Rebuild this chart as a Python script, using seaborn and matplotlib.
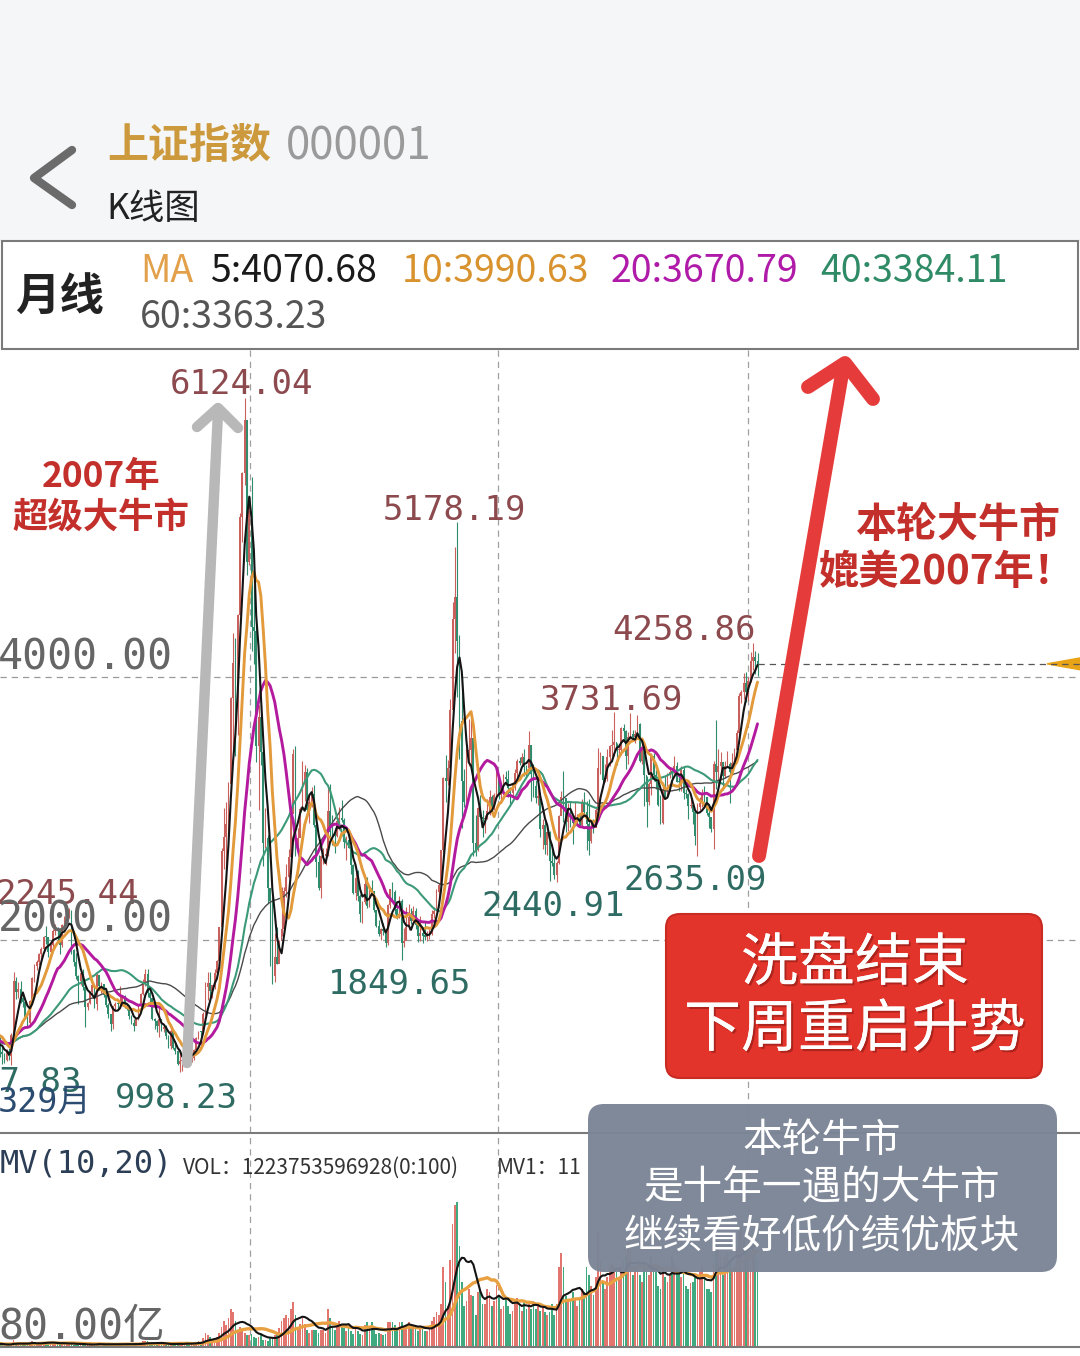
import numpy as np
import pandas as pd
import seaborn as sns
import matplotlib.pyplot as plt
import matplotlib.patheffects as pe
from matplotlib.lines import Line2D
from matplotlib.patches import FancyBboxPatch, Rectangle, Polygon
from matplotlib.transforms import Affine2D, blended_transform_factory

# monthly bars, Jan 1997 .. Apr 2026 (one row per year)
first_open = 917
close = [
    1025, 1049, 1203, 1390, 1293, 1242, 1181, 1210, 1097, 1133, 1152, 1194,
    1206, 1202, 1243, 1343, 1411, 1339, 1386, 1151, 1243, 1217, 1247, 1147,
    1135, 1090, 1158, 1120, 1280, 1689, 1601, 1627, 1556, 1532, 1412, 1367,
    1535, 1714, 1801, 1836, 1894, 1928, 2023, 2022, 1910, 1961, 2070, 2073,
    2065, 1959, 2112, 2119, 2214, 2218, 1920, 1834, 1729, 1690, 1747, 1646,
    1490, 1524, 1603, 1656, 1515, 1732, 1651, 1669, 1581, 1507, 1434, 1358,
    1499, 1511, 1510, 1521, 1576, 1487, 1477, 1421, 1367, 1348, 1397, 1497,
    1590, 1675, 1741, 1595, 1555, 1399, 1386, 1342, 1396, 1320, 1340, 1266,
    1191, 1306, 1181, 1159, 1060, 1080, 1083, 1162, 1155, 1092, 1099, 1161,
    1258, 1299, 1298, 1440, 1641, 1672, 1612, 1658, 1752, 1837, 2099, 2675,
    2786, 2881, 3183, 3841, 4109, 3820, 4471, 5218, 5552, 5955, 4871, 5262,
    4383, 4348, 3473, 3693, 3433, 2736, 2775, 2397, 2293, 1729, 1871, 1821,
    1991, 2082, 2373, 2477, 2633, 2959, 3412, 2667, 2779, 2996, 3195, 3277,
    2989, 3051, 3110, 2871, 2592, 2398, 2638, 2639, 2656, 2979, 2820, 2808,
    2790, 2905, 2928, 2911, 2743, 2762, 2701, 2567, 2359, 2468, 2333, 2199,
    2292, 2428, 2262, 2396, 2372, 2225, 2103, 2047, 2086, 2068, 1980, 2269,
    2385, 2365, 2236, 2177, 2300, 1979, 1993, 2098, 2175, 2141, 2220, 2116,
    2033, 2056, 2033, 2026, 2039, 2048, 2201, 2217, 2364, 2420, 2683, 3235,
    3210, 3310, 3748, 4442, 4612, 4277, 3664, 3206, 3053, 3383, 3445, 3539,
    2738, 2688, 3004, 2938, 2917, 2930, 2979, 3085, 3005, 3100, 3250, 3104,
    3159, 3242, 3223, 3155, 3117, 3192, 3273, 3361, 3349, 3393, 3317, 3307,
    3481, 3259, 3169, 3082, 3095, 2847, 2876, 2725, 2821, 2603, 2588, 2494,
    2585, 2941, 3091, 3078, 2899, 2979, 2933, 2886, 2905, 2929, 2871, 3050,
    2977, 2880, 2750, 2860, 2852, 2985, 3310, 3396, 3218, 3225, 3392, 3473,
    3483, 3509, 3442, 3447, 3615, 3591, 3397, 3544, 3568, 3547, 3564, 3640,
    3361, 3462, 3252, 3047, 3186, 3399, 3253, 3202, 3024, 2893, 3151, 3089,
    3256, 3280, 3273, 3323, 3205, 3202, 3291, 3120, 3110, 3018, 3030, 2975,
    2789, 3015, 3041, 3105, 3087, 2967, 2938, 2842, 3336, 3279, 3326, 3351,
    3250, 3321, 3336, 3279, 3347, 3444, 3573, 3858, 3883, 3955, 3888, 3969,
    4118, 4150, 4120, 4100,
]
high = [
    1030, 1060, 1230, 1430, 1510, 1330, 1250, 1230, 1215, 1150, 1170, 1200,
    1230, 1230, 1260, 1370, 1420, 1420, 1400, 1390, 1270, 1260, 1300, 1260,
    1190, 1140, 1170, 1180, 1290, 1756, 1720, 1680, 1690, 1580, 1540, 1430,
    1540, 1720, 1820, 1850, 1900, 1950, 2030, 2110, 2020, 1970, 2080, 2125,
    2100, 2080, 2120, 2180, 2240, 2245, 2230, 1930, 1900, 1735, 1770, 1780,
    1650, 1530, 1610, 1680, 1660, 1748, 1720, 1680, 1660, 1590, 1520, 1440,
    1500, 1525, 1530, 1649, 1580, 1580, 1520, 1490, 1430, 1400, 1410, 1500,
    1600, 1700, 1780, 1783, 1620, 1560, 1410, 1390, 1480, 1400, 1350, 1350,
    1280, 1320, 1320, 1230, 1160, 1150, 1100, 1170, 1225, 1160, 1110, 1170,
    1260, 1310, 1310, 1450, 1680, 1757, 1760, 1660, 1780, 1850, 2100, 2700,
    3000, 3050, 3200, 3850, 4335, 4300, 4480, 5250, 5560, 6124, 5800, 5300,
    5522, 4700, 4475, 3786, 3786, 3440, 3000, 2800, 2333, 2330, 2050, 2100,
    2000, 2400, 2400, 2580, 2690, 2960, 3454, 3478, 2850, 3010, 3361, 3330,
    3306, 3100, 3160, 3181, 2890, 2650, 2650, 2700, 2700, 3160, 3186, 2950,
    2850, 2930, 3010, 3067, 2930, 2790, 2826, 2720, 2580, 2536, 2536, 2350,
    2300, 2478, 2476, 2400, 2453, 2370, 2200, 2150, 2090, 2130, 2080, 2270,
    2390, 2444, 2380, 2270, 2334, 2310, 2092, 2250, 2270, 2240, 2260, 2240,
    2130, 2180, 2100, 2140, 2070, 2080, 2230, 2250, 2390, 2430, 2683, 3239,
    3406, 3370, 3835, 4573, 4986, 5178, 4317, 4006, 3300, 3460, 3680, 3684,
    3539, 2950, 3010, 3100, 2990, 2950, 3070, 3140, 3100, 3120, 3301, 3250,
    3170, 3260, 3283, 3295, 3160, 3200, 3300, 3375, 3390, 3420, 3450, 3330,
    3587, 3480, 3340, 3220, 3220, 3090, 2920, 2900, 2830, 2830, 2700, 2650,
    2600, 2950, 3130, 3288, 2930, 3040, 3050, 2910, 3050, 2960, 2960, 3070,
    3127, 3060, 3074, 2900, 2920, 3000, 3458, 3430, 3400, 3340, 3456, 3480,
    3600, 3731, 3500, 3480, 3620, 3640, 3600, 3580, 3723, 3600, 3600, 3708,
    3651, 3500, 3480, 3250, 3200, 3420, 3420, 3290, 3250, 3100, 3180, 3250,
    3270, 3300, 3290, 3400, 3350, 3260, 3320, 3320, 3150, 3120, 3090, 3040,
    2990, 3040, 3090, 3150, 3170, 3090, 2990, 2900, 3360, 3674, 3450, 3430,
    3350, 3360, 3440, 3350, 3420, 3460, 3600, 3880, 3900, 4030, 4040, 4000,
    4190, 4259, 4200, 4180,
]
low = [
    870, 990, 1050, 1190, 1226, 1150, 1130, 1140, 1025, 1050, 1100, 1110,
    1110, 1170, 1180, 1230, 1330, 1320, 1300, 1043, 1110, 1170, 1190, 1110,
    1060, 1064, 1080, 1090, 1047, 1270, 1550, 1560, 1520, 1490, 1400, 1341,
    1361, 1520, 1680, 1770, 1810, 1840, 1920, 1970, 1870, 1890, 1950, 2040,
    2000, 1890, 1950, 2060, 2100, 2170, 1890, 1800, 1700, 1514, 1660, 1620,
    1339, 1470, 1510, 1590, 1480, 1470, 1620, 1600, 1570, 1490, 1410, 1311,
    1320, 1460, 1470, 1500, 1500, 1480, 1470, 1400, 1358, 1307, 1360, 1390,
    1490, 1580, 1650, 1570, 1500, 1390, 1320, 1300, 1260, 1310, 1300, 1250,
    1180, 1170, 1170, 1130, 1050, 998, 1004, 1070, 1130, 1080, 1075, 1090,
    1163, 1250, 1260, 1300, 1430, 1540, 1540, 1560, 1630, 1730, 1820, 2080,
    2540, 2541, 2700, 3150, 3400, 3400, 3560, 4470, 5030, 5462, 4778, 4850,
    4196, 4100, 3357, 2990, 3330, 2566, 2700, 2285, 1802, 1664, 1679, 1814,
    1844, 2030, 2040, 2330, 2470, 2630, 2980, 2639, 2712, 2800, 3030, 3060,
    2980, 2890, 3010, 2860, 2481, 2382, 2319, 2580, 2570, 2640, 2770, 2720,
    2661, 2780, 2840, 2900, 2700, 2610, 2700, 2500, 2348, 2307, 2300, 2134,
    2132, 2270, 2242, 2250, 2340, 2210, 2100, 2030, 2000, 2040, 1949, 1960,
    2240, 2300, 2200, 2162, 2170, 1850, 1950, 2000, 2075, 2122, 2130, 2080,
    1984, 1990, 1974, 2000, 1991, 2010, 2040, 2170, 2220, 2280, 2400, 2660,
    3049, 3180, 3240, 3710, 4180, 3847, 3373, 2850, 3012, 3050, 3320, 3330,
    2638, 2638, 2680, 2930, 2780, 2810, 2920, 2950, 2960, 2990, 3070, 3070,
    3040, 3150, 3180, 3090, 3017, 3090, 3140, 3230, 3330, 3330, 3250, 3250,
    3300, 3060, 3090, 3040, 3030, 2782, 2690, 2653, 2644, 2449, 2560, 2460,
    2441, 2580, 2960, 2900, 2820, 2830, 2860, 2730, 2870, 2890, 2860, 2860,
    2960, 2685, 2646, 2740, 2815, 2870, 3010, 3260, 3200, 3200, 3210, 3320,
    3400, 3400, 3330, 3390, 3410, 3510, 3300, 3340, 3530, 3510, 3500, 3540,
    3350, 3340, 3020, 2863, 3030, 3100, 3210, 3150, 3020, 2885, 2880, 3080,
    3090, 3230, 3170, 3240, 3200, 3130, 3130, 3070, 3080, 2920, 3000, 2880,
    2724, 2635, 2990, 3010, 3050, 2950, 2850, 2820, 2689, 3150, 3170, 3220,
    3140, 3230, 3320, 3040, 3270, 3340, 3430, 3560, 3800, 3830, 3810, 3820,
    3960, 4050, 4020, 4010,
]
# volume, relative units (2015 peak = 100)
volume = [
    3, 3, 4, 5, 6, 3, 2, 2, 2, 2, 2, 2,
    2, 2, 2, 3, 3, 2, 2, 2, 2, 2, 2, 1.5,
    1.5, 1.2, 1.5, 1.5, 3, 5, 3, 3, 2, 1.5, 1.5, 1.5,
    2.5, 4, 3.5, 3, 3, 3, 3.5, 3.5, 2, 2, 3, 2.5,
    2, 2, 3, 3, 2.5, 2.5, 2, 1.5, 1.5, 2, 2, 1.5,
    1.5, 1.2, 2, 2.5, 1.5, 3, 2.5, 1.5, 1.5, 1.5, 1.5, 1.5,
    2, 2, 2, 3, 2.5, 2, 1.5, 1.5, 1.5, 1.5, 2, 2.5,
    3, 4, 4, 4, 2, 2, 2, 2, 3, 2, 2, 2,
    2, 2, 2, 2, 2, 3, 2, 3, 3, 2, 2, 3,
    3, 4, 3, 6, 10, 8, 7, 5, 6, 7, 10, 14,
    18, 15, 20, 26, 24, 18, 12, 14, 12, 10, 8, 8,
    9, 7, 6, 7, 8, 5, 5, 4, 6, 6, 8, 9,
    13, 18, 20, 22, 20, 26, 31, 22, 14, 16, 20, 16,
    12, 10, 12, 12, 12, 10, 12, 12, 10, 26, 20, 14,
    12, 15, 18, 16, 13, 11, 13, 11, 9, 13, 11, 9,
    8, 15, 17, 13, 17, 13, 9, 10, 9, 8, 9, 17,
    17, 17, 15, 12, 17, 17, 13, 15, 17, 13, 13, 13,
    11, 13, 13, 11, 11, 13, 18, 21, 24, 22, 30, 55,
    45, 28, 60, 85, 98, 100, 70, 45, 28, 32, 40, 36,
    35, 22, 38, 40, 30, 30, 40, 38, 28, 32, 43, 36,
    26, 28, 34, 28, 23, 25, 30, 34, 30, 25, 32, 26,
    30, 26, 32, 26, 28, 25, 27, 24, 22, 24, 30, 22,
    30, 55, 65, 55, 35, 32, 32, 38, 34, 28, 34, 40,
    38, 55, 50, 42, 36, 48, 80, 60, 45, 40, 48, 55,
    58, 55, 52, 48, 55, 60, 62, 72, 68, 50, 56, 60,
    50, 45, 58, 52, 50, 62, 55, 52, 42, 40, 55, 48,
    45, 50, 62, 58, 55, 52, 48, 52, 42, 40, 44, 45,
    50, 48, 52, 55, 48, 40, 40, 38, 58, 85, 70, 62,
    50, 62, 65, 60, 52, 55, 68, 80, 82, 75, 70, 68,
    72, 70, 65, 60,
]

ma_values = ["5:4070.68", "10:3990.63", "20:3670.79", "40:3384.11", "60:3363.23"]
peak_labels = ["6124.04", "5178.19", "4258.86", "3731.69", "2245.44"]
trough_labels = ["998.23", "1849.65", "2440.91", "2635.09", "1047.83"]

W, H = 1080, 1356
UP, DOWN = "#c9605c", "#2f8c6c"
VUP, VDOWN = "#e2756d", "#3faa80"
CJK = "Noto Sans CJK SC"
MONO = ["DejaVu Sans Mono", CJK]

sns.set_theme(style="white")
plt.rcParams["font.family"] = [CJK, "DejaVu Sans"]

df = pd.DataFrame({"close": close, "high": high, "low": low, "vol": volume})
df["open"] = [first_open] + close[:-1]
df["pos"] = np.arange(len(df))
for n in (5, 10, 20, 40, 60):
    df[f"ma{n}"] = df["close"].rolling(n, min_periods=1).mean()
df["mv10"] = df["vol"].rolling(10, min_periods=1).mean()
df["mv20"] = df["vol"].rolling(20, min_periods=1).mean()
up = df["close"] >= df["open"]

fig = plt.figure(figsize=(W / 100, H / 100), dpi=100)
fig.patch.set_facecolor("white")
# pixel coords, y measured from top
PX = Affine2D().scale(1 / W, -1 / H).translate(0, 1) + fig.transFigure


def txt(x, y, s, **kw):
    kw.setdefault("va", "center")
    kw.setdefault("ha", "left")
    return fig.text(x, y, s, transform=PX, **kw)


def pline(xs, ys, **kw):
    fig.add_artist(Line2D(xs, ys, transform=PX, **kw))


XLIM = (23.1, 490.6)

# ---- price panel
ax = fig.add_axes([0, 1 - 1133 / H, 1, (1133 - 350) / H])
ax.patch.set_visible(False)
ax.vlines(df["pos"], df["low"], df["high"], colors=np.where(up, UP, DOWN), lw=0.8)
body = (df["close"] - df["open"]).abs().clip(lower=10)
ax.bar(df["pos"], body, bottom=np.minimum(df["open"], df["close"]), width=0.75,
       color=np.where(up, UP, DOWN), linewidth=0)
for n, c, lw in [(60, "#4a4a4a", 1.0), (40, "#3c9a78", 1.5), (20, "#b41a9e", 2.1),
                 (10, "#e39a3b", 2.1), (5, "#141414", 1.5)]:
    sns.lineplot(data=df, x="pos", y=f"ma{n}", color=c, lw=lw, ax=ax)
for lvl in (4000, 2000):
    ax.axhline(lvl, color="#9a9a9a", lw=0.9, ls=(0, (5, 4)), zorder=0)
ax.hlines(close[-1], df["pos"].iloc[-1], XLIM[1], color="#555555", lw=0.9, ls=(0, (5, 4)))
bt = blended_transform_factory(ax.transAxes, ax.transData)
ax.add_patch(Polygon([(1047 / W, close[-1]), (1, close[-1] + 45), (1, close[-1] - 45)],
                     closed=True, transform=bt, color="#e8a317", clip_on=False))
ax.set_xlim(*XLIM)
ax.set_ylim(532, 6487)
ax.axis("off")

# ---- volume panel
axv = fig.add_axes([0, 1 - 1347 / H, 1, (1347 - 1150) / H])
axv.patch.set_visible(False)
axv.bar(df["pos"], df["vol"], width=0.75, color=np.where(up, VUP, VDOWN), linewidth=0)
sns.lineplot(data=df, x="pos", y="mv20", color="#e8a040", lw=2.4, ax=axv)
sns.lineplot(data=df, x="pos", y="mv10", color="#141414", lw=1.5, ax=axv)
axv.set_xlim(*XLIM)
axv.set_ylim(0, 136)
axv.axis("off")

# ---- frame / grid decorations
fig.add_artist(Rectangle((0, 0), W, 241, transform=PX, color="#f5f6f8", zorder=-2))
fig.add_artist(Rectangle((2, 241), 1076, 108, transform=PX, fc="white", ec="#7a7a7a", lw=1.5, zorder=1))
for gx in (250, 498, 748):
    pline([gx, gx], [350, 1347], color="#a0a0a0", lw=0.9, ls=(0, (5, 4)), zorder=-1)
pline([0, W], [1133, 1133], color="#7a7a7a", lw=1.5, zorder=1)
pline([0, W], [1347, 1347], color="#7a7a7a", lw=1.5, zorder=1)

# ---- header
pline([72, 34, 72], [150, 178, 205], color="#6b6b6b", lw=6, solid_capstyle="round",
      solid_joinstyle="round")
txt(107, 146, "上证指数", size=29.5, weight="bold", color="#cc9a3c")
txt(286, 146, "000001", size=31.5, color="#9a9a9a")
txt(106, 209, "K线图", size=25.5, color="#222222")
txt(15, 298, "月线", size=32, weight="bold", color="#222222")
txt(140, 272, "MA", size=27, color="#e3a04a")
ma_x = [210, 402, 611, 820]
ma_c = ["#1a1a1a", "#d8922e", "#b01aa8", "#2f8a66"]
for x, s, c in zip(ma_x, ma_values[:4], ma_c):
    txt(x, 272, s, size=27, color=c)
txt(140, 318, ma_values[4], size=27, color="#555555")

# ---- price labels
HI, LO = "#8c4a4e", "#2e6b62"
for (x, y), s in zip([(170, 385), (383, 510), (612, 631), (540, 701), (-5, 894)], peak_labels):
    txt(x, y, s, size=24.5, family=MONO, color=HI)
for (x, y), s in zip([(115, 1098), (328, 985), (482, 907), (623, 880)], trough_labels[:4]):
    txt(x, y, s, size=24.5, family=MONO, color=LO)
txt(82, 1083, trough_labels[4], size=24.5, family=MONO, color=LO, ha="right")
txt(-2, 1102, "329月", size=24, family=MONO, color="#2b4b70")
txt(-2, 658, "4000.00", size=30, family=MONO, color="#666666")
txt(-2, 920, "2000.00", size=30, family=MONO, color="#666666")

# ---- volume labels
txt(0, 1164, "MV(10,20)", size=23, family=MONO, color="#2c3e55")
txt(183, 1168, "VOL：1223753596928(0:100)", size=15, color="#333333")
txt(497, 1168, "MV1：11", size=15, color="#333333")
txt(-2, 1327, "80.00亿", size=30, family=MONO, color="#666666")

# ---- arrows
pline([187, 218], [1063, 412], color="#b8b8b8", lw=7.5, solid_capstyle="round", zorder=4)
pline([197, 218, 238], [427, 408, 428], color="#b8b8b8", lw=7.5, solid_capstyle="round",
      solid_joinstyle="round", zorder=4)
pline([759, 843], [856, 368], color="#e63b3b", lw=10, solid_capstyle="round", zorder=4)
pline([808, 845, 873], [387, 363, 399], color="#e63b3b", lw=10, solid_capstyle="round",
      solid_joinstyle="round", zorder=4)

# ---- captions
red = "#c3302b"
txt(101, 476, "2007年", size=25.5, weight="bold", color=red, ha="center")
txt(101, 517, "超级大牛市", size=25.5, weight="bold", color=red, ha="center")
txt(958, 525, "本轮大牛市", size=29.5, weight="bold", color=red, ha="center")
txt(947, 572, "媲美2007年！", size=29, weight="bold", color=red, ha="center")

fig.add_artist(FancyBboxPatch((666, 914), 376, 164, boxstyle="round,pad=0,rounding_size=14",
                              transform=PX, fc="#e2342b", ec="#c92a22", lw=1.5, zorder=5))
shadow = [pe.withSimplePatchShadow(offset=(1.5, -1.5), shadow_rgbFace="#8a1a15", alpha=0.6), pe.Normal()]
txt(855, 964, "洗盘结束", size=41, color="white", ha="center", zorder=6, path_effects=shadow)
txt(855, 1030, "下周重启升势", size=41, color="white", ha="center", zorder=6, path_effects=shadow)

fig.add_artist(FancyBboxPatch((588, 1104), 469, 168, boxstyle="round,pad=0,rounding_size=16",
                              transform=PX, fc="#7c8596", ec="none", alpha=0.97, zorder=5))
for y, s in [(1141, "本轮牛市"), (1188, "是十年一遇的大牛市"), (1236, "继续看好低价绩优板块")]:
    txt(822, y, s, size=28.5, color="white", ha="center", zorder=6)

fig.savefig("out.png", dpi=100, facecolor="white")
